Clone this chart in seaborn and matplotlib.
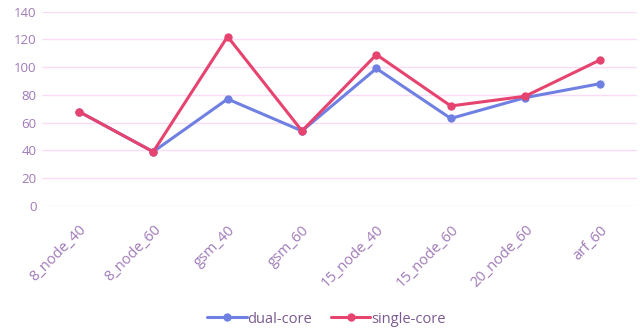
import pandas as pd
import numpy as np
import matplotlib.pyplot as plt
import seaborn as sns

categories = ['8_node_40', '8_node_60', 'gsm_40', 'gsm_60', '15_node_40', '15_node_60', '20_node_60', 'arf_60']
dual_core = [68, 39, 77, 54, 99, 63, 78, 88]
single_core = [68, 39, 122, 54, 109, 72, 79, 105]

df = pd.DataFrame({
    'case': categories * 2,
    'value': dual_core + single_core,
    'series': ['dual-core'] * len(categories) + ['single-core'] * len(categories),
})

sns.set_style('white')
plt.rcParams['font.family'] = ['Open Sans', 'DejaVu Sans']

fig, ax = plt.subplots(figsize=(6.4, 3.31), dpi=100)
fig.subplots_adjust(left=0.065, right=0.995, top=0.965, bottom=0.378)

palette = {'dual-core': '#6f80e2', 'single-core': '#e6436e'}
sns.lineplot(data=df, x='case', y='value', hue='series', palette=palette,
             marker='o', markersize=6, markeredgewidth=0, linewidth=2.2,
             sort=False, ax=ax)

ax.set_ylim(0, 140)
ax.set_yticks(range(0, 141, 20))
ax.set_xlim(-0.5, len(categories) - 0.5)
ax.set_xlabel('')
ax.set_ylabel('')
ax.grid(axis='y', color='#fadcf8', linewidth=1)
ax.set_axisbelow(True)
sns.despine(ax=ax, left=True, bottom=True)

lab_color = '#a07ab8'
ax.tick_params(axis='y', length=0, labelsize=9.5, colors=lab_color)
ax.tick_params(axis='x', length=0, labelsize=10.5, colors=lab_color, pad=12)
plt.setp(ax.get_xticklabels(), rotation=45, ha='right', rotation_mode='anchor')

ax.get_legend().remove()
handles, labels = ax.get_legend_handles_labels()
fig.legend(handles, labels, loc='center', bbox_to_anchor=(0.51, 0.036), ncol=2,
           frameon=False, fontsize=10.5, labelcolor='#7a5a90', handlelength=2.7,
           columnspacing=1.3, handletextpad=0.05)

fig.savefig('out.png', dpi=100)
